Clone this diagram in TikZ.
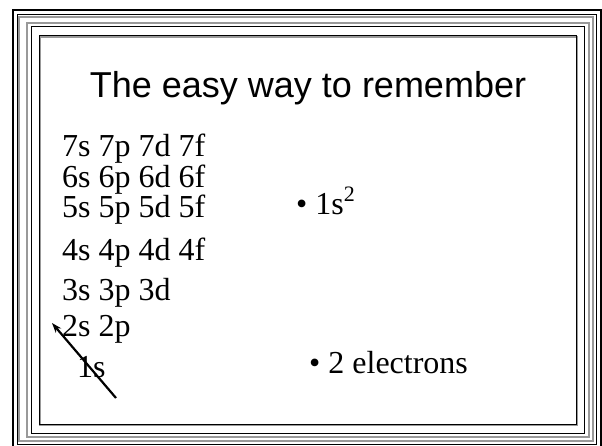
\documentclass[tikz,border=0pt]{standalone}
\usepackage{fontspec}
\setmainfont{Liberation Serif}
\newfontfamily\titlefont{Liberation Sans}
\usetikzlibrary{arrows.meta}
\newcommand\orbfont{\fontsize{32}{38}\selectfont}
\newcommand\hdfont{\titlefont\fontsize{36}{42}\selectfont}

\begin{document}
\begin{tikzpicture}[x=1pt, y=-1pt,
  rim/.style={draw=black, line width=1pt},
  rimgray/.style={draw=gray!80, line width=1.4pt},
  orb/.style={anchor=base west, inner sep=0pt, font=\orbfont},
  pt/.style={anchor=base west, inner sep=0pt, font=\orbfont},
  arr/.style={-{Stealth[length=10pt, width=7pt]}, line width=2.2pt}
]
\useasboundingbox (0,0) rectangle (602,446);

% Frame
\draw[line width=2.4pt] (13,10) rectangle (601,452);
\draw[rim] (17,15) rectangle (596,444);
\draw[rimgray] (19,17) rectangle (593,441);
\draw[rimgray] (27,23) rectangle (589,437);
\draw[rim] (31,27) rectangle (584,433);
\draw[rimgray] (40,37) rectangle (577,425);
\draw[rim] (39,36) rectangle (576,424);

% Title
\node[font=\hdfont, anchor=base, inner sep=0pt] (title) at (308,98) {The easy way to remember};

% Orbitals
\node[orb] (o7) at (62,157) {7s 7p 7d 7f};
\node[orb] (o6) at (62,188) {6s 6p 6d 6f};
\node[orb] (o5) at (62,218) {5s 5p 5d 5f};
\node[orb] (o4) at (62,261) {4s 4p 4d 4f};
\node[orb] (o3) at (62,300) {3s 3p 3d};
\node[orb] (o2) at (62,336) {2s 2p};
\node[orb] (o1) at (77,377) {1s};

% Bullets
\node[pt] (cfg) at (296,215) {\textbullet\ 1s\raisebox{0.42em}{\fontsize{22}{22}\selectfont 2}};
\node[pt] (nel) at (309,373) {\textbullet\ 2 electrons};

% Arrow
\coordinate (tail) at (116,398);
\coordinate (tip) at (52,323);
\draw[arr] (tail) -- (tip);
\end{tikzpicture}
\end{document}
